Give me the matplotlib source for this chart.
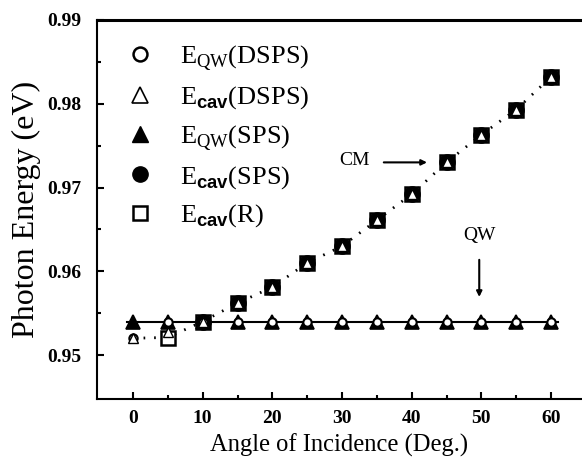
import matplotlib
matplotlib.use("Agg")
import matplotlib.pyplot as plt

plt.rcParams['font.family'] = ['Liberation Serif', 'DejaVu Serif']
plt.rcParams['mathtext.fontset'] = 'custom'
plt.rcParams['mathtext.rm'] = 'Liberation Serif'
plt.rcParams['mathtext.sf'] = 'Liberation Sans:bold'

# ---- data ----
angles = [0, 5, 10, 15, 20, 25, 30, 35, 40, 45, 50, 55, 60]
e_qw_sps = [0.9540, 0.9540, 0.9540, 0.9540, 0.9540, 0.9540, 0.9540,
            0.9540, 0.9540, 0.9540, 0.9540, 0.9540, 0.9540]
e_qw_dsps = [0.9520, 0.9540, 0.9540, 0.9540, 0.9540, 0.9540, 0.9540,
             0.9540, 0.9540, 0.9540, 0.9540, 0.9540, 0.9540]
e_cav_dsps = [0.9520, 0.9528, 0.9540, 0.9562, 0.9581, 0.9610, 0.9630,
              0.9661, 0.9692, 0.9730, 0.9763, 0.9793, 0.9832]
angles_sps = [10, 15, 20, 25, 30, 35, 40, 45, 50, 55, 60]
e_cav_sps = [0.9540, 0.9562, 0.9581, 0.9610, 0.9630, 0.9661, 0.9692,
             0.9730, 0.9763, 0.9793, 0.9832]
angles_r = [5, 10, 15, 20, 25, 30, 35, 40, 45, 50, 55, 60]
e_cav_r = [0.9520, 0.9540, 0.9562, 0.9581, 0.9610, 0.9630, 0.9661,
           0.9692, 0.9730, 0.9763, 0.9793, 0.9832]
cm_curve_x = [0, 5, 10, 15, 20, 25, 30, 35, 40, 45, 50, 55, 60, 61]
cm_curve_y = [0.9520, 0.9521, 0.9540, 0.9562, 0.9581, 0.9610, 0.9630,
              0.9661, 0.9692, 0.9730, 0.9763, 0.9793, 0.9832, 0.9838]
qw_line_x = [-0.8, 61]
qw_line_y = [0.9540, 0.9540]

labels = [r'E$_{\mathrm{QW}}$(DSPS)', r'E$_{\mathsf{cav}}$(DSPS)',
          r'E$_{\mathrm{QW}}$(SPS)', r'E$_{\mathsf{cav}}$(SPS)',
          r'E$_{\mathsf{cav}}$(R)']

fig = plt.figure(figsize=(5.82, 4.76), dpi=100)
ax = fig.add_axes([97/582, 1 - 399/476, 1 - 97/582, (399 - 20)/476])

ax.plot(qw_line_x, qw_line_y, color='black', lw=1.5, zorder=1)
ax.plot(cm_curve_x, cm_curve_y, color='black', lw=2,
        linestyle=(0, (0.6, 3.2)), zorder=1)

ax.plot(angles_r, e_cav_r, 's', ms=10, mfc='white', mec='black',
        mew=1.8, zorder=2)
ax.plot(angles, e_qw_sps, '^', ms=10, mfc='black', mec='black',
        mew=1.2, zorder=3)
ax.plot(angles_sps, e_cav_sps, 'o', ms=11, mfc='black', mec='black',
        zorder=3)
ax.plot(angles, e_qw_dsps, 'o', ms=6, mfc='white', mec='black',
        mew=1.5, zorder=4)
ax.plot(angles, e_cav_dsps, '^', ms=6.5, mfc='white', mec='black',
        mew=1.0, zorder=5)

# legend proxies
p1, = ax.plot([], [], 'o', ms=10, mfc='white', mec='black', mew=1.8)
p2, = ax.plot([], [], '^', ms=12, mfc='white', mec='black', mew=1.2)
p3, = ax.plot([], [], '^', ms=12, mfc='black', mec='black')
p4, = ax.plot([], [], 'o', ms=11, mfc='black', mec='black')
p5, = ax.plot([], [], 's', ms=10, mfc='white', mec='black', mew=1.8)
ax.legend([p1, p2, p3, p4, p5], labels, loc='upper left', frameon=False,
          fontsize=19, handlelength=1.0, handletextpad=1.0,
          labelspacing=0.44, borderaxespad=0.0,
          bbox_to_anchor=(0.04, 0.967))

ax.annotate('', xy=(42.6, 0.9730), xytext=(35.6, 0.9730),
            arrowprops=dict(arrowstyle='-|>', color='black', lw=1.5,
                            mutation_scale=8))
ax.text(34.0, 0.9732, 'CM', fontsize=14, ha='right', va='center')
ax.annotate('', xy=(49.7, 0.9566), xytext=(49.7, 0.9617),
            arrowprops=dict(arrowstyle='-|>', color='black', lw=1.5,
                            mutation_scale=8))
ax.text(49.7, 0.9633, 'QW', fontsize=14, ha='center', va='bottom')

ax.set_xlim(-5.17, 64.45)
ax.set_ylim(0.94475, 0.99)
ax.set_xticks([0, 10, 20, 30, 40, 50, 60])
ax.set_xticks([5, 15, 25, 35, 45, 55], minor=True)
ax.set_yticks([0.95, 0.96, 0.97, 0.98, 0.99])
ax.set_yticklabels(['0.95', '0.96', '0.97', '0.98', '0.99'])
ax.set_yticks([0.955, 0.965, 0.975, 0.985], minor=True)
ax.tick_params(which='both', direction='in', width=1.5, labelsize=14)
ax.tick_params(axis='y', which='major', pad=11)
ax.tick_params(axis='x', which='major', pad=8)
ax.tick_params(which='major', length=5)
ax.tick_params(which='minor', length=3)
for lbl in ax.get_xticklabels() + ax.get_yticklabels():
    lbl.set_fontweight('bold')
ax.spines['right'].set_visible(False)
for s in ['left', 'bottom']:
    ax.spines[s].set_linewidth(1.5)
ax.spines['top'].set_linewidth(2.2)

ax.set_xlabel('Angle of Incidence (Deg.)', fontsize=17.7, labelpad=5)
ax.set_ylabel('Photon Energy (eV)', fontsize=23, labelpad=5)

fig.savefig('out.png', dpi=100)
